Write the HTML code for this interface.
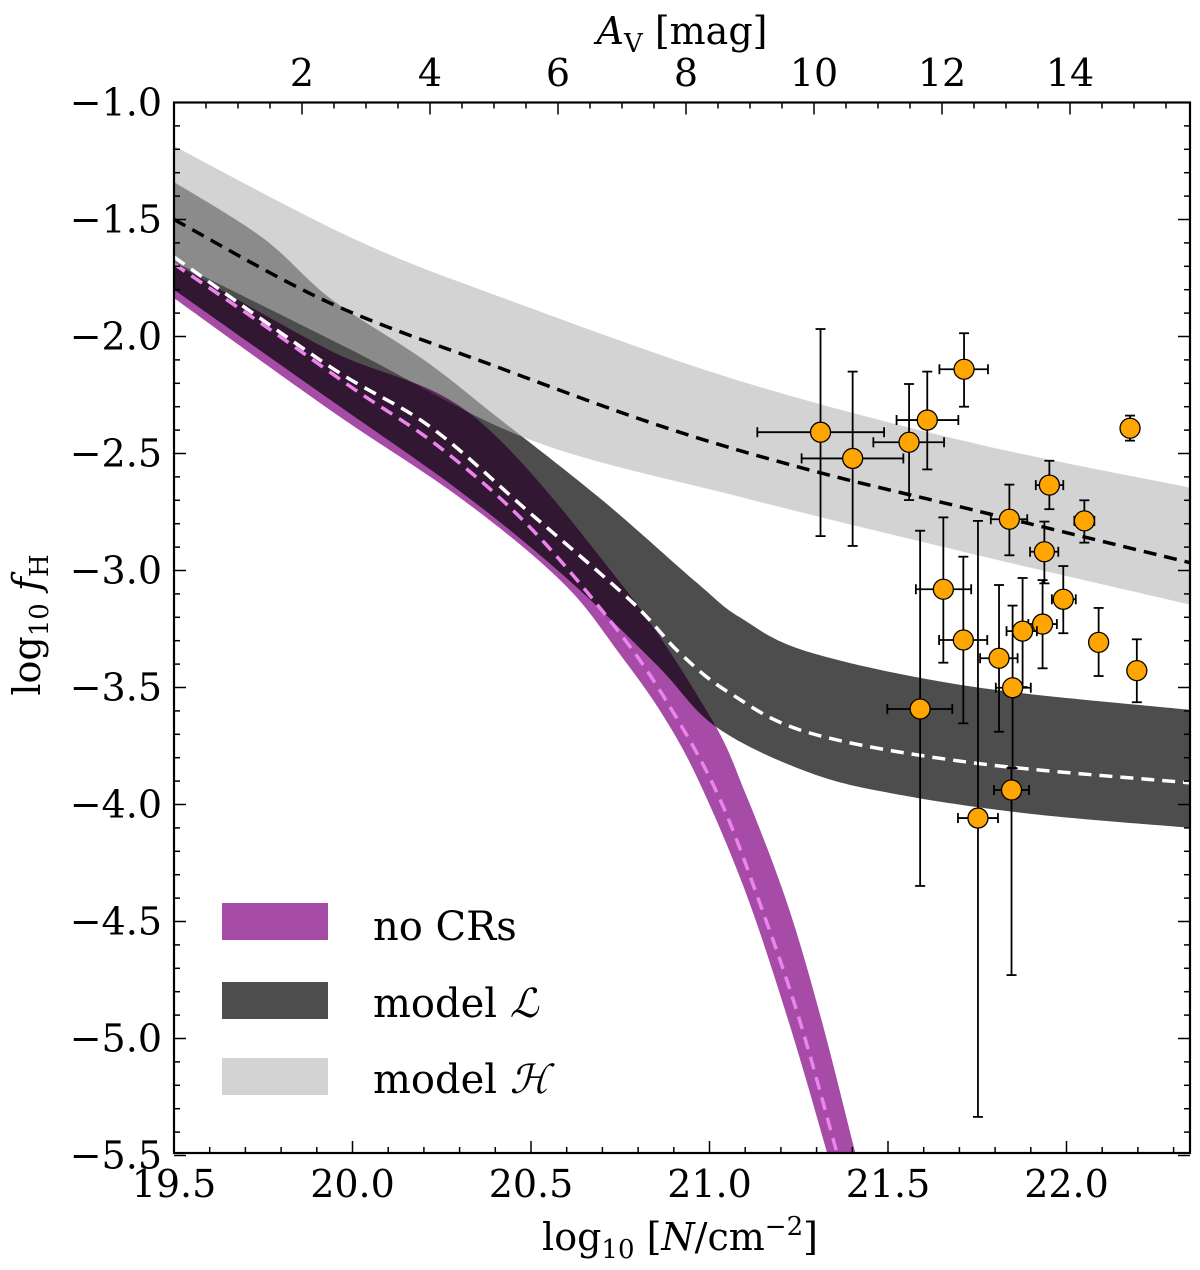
<!DOCTYPE html>
<html><head><meta charset="utf-8"><style>
html,body{margin:0;padding:0;background:#fff;}
svg{display:block;font-family:"DejaVu Serif","Liberation Serif",serif;}
</style></head><body>
<svg id="chart" width="1200" height="1270" viewBox="0 0 1200 1270" xmlns="http://www.w3.org/2000/svg">
<defs><clipPath id="plotclip"><rect x="174" y="102" width="1016" height="1051"/></clipPath></defs>
<g id="bands" clip-path="url(#plotclip)"></g>
<g id="lines" clip-path="url(#plotclip)"></g>
<g id="points"></g>
<g id="axes"></g>
<g id="legend">
  <rect x="222" y="903" width="106" height="37" fill="#a64ca6"/>
  <text x="373" y="940" font-size="40">no CRs</text>
  <rect x="222" y="982" width="106" height="37" fill="#4d4d4d"/>
  <text x="373" y="1017" font-size="40">model <tspan font-style="italic">ℒ</tspan></text>
  <rect x="222" y="1058" width="106" height="37" fill="#d3d3d3"/>
  <text x="373" y="1093" font-size="40">model <tspan font-style="italic">ℋ</tspan></text>
</g>
</svg>
<script>
// ---- data ----
const hMedX=[19.5,19.937,20.405,20.87,21.282,21.738,22.35];
const hMedY=[-1.5,-1.857,-2.13,-2.386,-2.571,-2.741,-2.968];
const hUpX=[19.5,20.0,20.43,21.085,21.738,22.35];
const hUpY=[-1.186,-1.58,-1.84,-2.19,-2.455,-2.647];
const hLoX=[19.5,20.0,20.5,21.085,21.738,22.35];
const hLoY=[-1.68,-2.06,-2.443,-2.685,-2.93,-3.147];
const lMedX=[19.5,19.937,20.217,20.497,20.777,20.917,21.057,21.282,21.738,22.35];
const lMedY=[-1.66,-2.129,-2.385,-2.754,-3.126,-3.353,-3.524,-3.695,-3.822,-3.908];
const lUpX=[19.5,19.75,19.94,20.2,20.405,20.7,20.965,21.085,21.282,21.738,22.35];
const lUpY=[-1.34,-1.58,-1.84,-2.1,-2.344,-2.7,-3.053,-3.2,-3.35,-3.497,-3.596];
const lLoX=[19.5,19.937,20.3,20.59,20.85,21.02,21.282,21.534,21.9,22.35];
const lLoY=[-1.8,-2.27,-2.66,-3.02,-3.4,-3.67,-3.865,-3.959,-4.04,-4.1];
const pMedX=[19.5,19.75,20.0,20.25,20.5,20.75,20.9,21.03,21.15,21.25,21.35,21.42];
const pMedY=[-1.69,-1.95,-2.22,-2.48,-2.82,-3.27,-3.61,-3.98,-4.46,-4.91,-5.45,-5.85];
const pUpX=[19.5,19.937,20.338,20.749,21.0,21.1,21.217,21.31,21.402,21.45];
const pUpY=[-1.686,-2.06,-2.34,-3.05,-3.62,-3.95,-4.42,-4.9,-5.45,-5.75];
const pLoX=[19.5,19.937,20.31,20.59,20.75,20.87,20.97,21.1,21.22,21.324,21.37];
const pLoY=[-1.836,-2.314,-2.699,-3.054,-3.36,-3.62,-3.9,-4.37,-4.92,-5.46,-5.73];
// observations
const obsX=[21.311,21.401,21.559,21.610,21.713,22.178,21.952,21.840,22.050,21.938,21.655,21.991,21.933,21.877,22.090,21.711,21.811,22.197,21.849,21.590,21.846,21.752];
const obsY=[-2.409,-2.521,-2.452,-2.357,-2.140,-2.392,-2.635,-2.781,-2.788,-2.920,-3.080,-3.123,-3.229,-3.259,-3.307,-3.297,-3.375,-3.428,-3.501,-3.592,-3.938,-4.058];
const obsXlo=[21.134,21.258,21.459,21.524,21.644,22.172,21.914,21.788,22.022,21.898,21.578,21.959,21.893,21.832,22.090,21.643,21.758,22.197,21.802,21.498,21.797,21.696];
const obsXhi=[21.489,21.543,21.657,21.697,21.780,22.184,21.991,21.890,22.078,21.977,21.733,22.026,21.973,21.917,22.090,21.778,21.863,22.197,21.900,21.680,21.895,21.808];
const obsYhi=[-1.968,-2.150,-2.203,-2.150,-1.986,-2.338,-2.531,-2.633,-2.700,-2.791,-2.773,-2.981,-3.041,-3.032,-3.160,-2.941,-3.062,-3.294,-3.150,-2.830,-3.844,-2.788];
const obsYlo=[-2.853,-2.895,-2.699,-2.568,-2.300,-2.445,-2.738,-2.935,-2.881,-3.055,-3.394,-3.268,-3.418,-3.498,-3.451,-3.653,-3.689,-3.563,-3.845,-4.348,-4.729,-5.335];
// ticks
const xTicks=[19.5,20.0,20.5,21.0,21.5,22.0];
const xTickLabels=["19.5","20.0","20.5","21.0","21.5","22.0"];
const yTicks=[-1.0,-1.5,-2.0,-2.5,-3.0,-3.5,-4.0,-4.5,-5.0,-5.5];
const yTickLabels=["−1.0","−1.5","−2.0","−2.5","−3.0","−3.5","−4.0","−4.5","−5.0","−5.5"];
const avTicks=[2,4,6,8,10,12,14];
const avTickLabels=["2","4","6","8","10","12","14"];

// ---- scales ----
const L=174,R=1190,T=102.5,B=1153;
const sx=v=>L+(v-19.5)*357;
const sy=v=>T+(-1-v)*234;
const sav=v=>L+v*64;
const NS="http://www.w3.org/2000/svg";
function mk(tag,attrs,parent){const e=document.createElementNS(NS,tag);for(const k in attrs)e.setAttribute(k,attrs[k]);parent.appendChild(e);return e;}
function smooth(xs,ys){
  const P=xs.map((x,i)=>[sx(x),sy(ys[i])]);let d="M"+P[0][0]+","+P[0][1];
  for(let i=0;i<P.length-1;i++){const p0=P[Math.max(0,i-1)],p1=P[i],p2=P[i+1],p3=P[Math.min(P.length-1,i+2)];
    d+=" C"+(p1[0]+(p2[0]-p0[0])/6)+","+(p1[1]+(p2[1]-p0[1])/6)+" "+(p2[0]-(p3[0]-p1[0])/6)+","+(p2[1]-(p3[1]-p1[1])/6)+" "+p2[0]+","+p2[1];}
  return d;}
function bandPath(ux,uy,lx,ly){
  const up=smooth(ux,uy);const lo=smooth(lx.slice().reverse(),ly.slice().reverse());
  return up+" L"+lo.slice(1)+" Z";}
const bands=document.getElementById('bands');
const bl=mk('path',{d:bandPath(lUpX,lUpY,lLoX,lLoY),fill:'#4d4d4d'},bands);


const bh=mk('path',{d:bandPath(hUpX,hUpY,hLoX,hLoY),fill:'#b6b6b6','fill-opacity':'0.6'},bands);


const bp=mk('path',{d:bandPath(pUpX,pUpY,pLoX,pLoY),fill:'#a64ca6',style:'mix-blend-mode:multiply'},bands);


const lines=document.getElementById('lines');
const l1=mk('path',{d:smooth(hMedX,hMedY),fill:'none',stroke:'#000','stroke-width':3.5,'stroke-dasharray':'13,8'},lines);


const l2=mk('path',{d:smooth(lMedX,lMedY),fill:'none',stroke:'#fff','stroke-width':3.5,'stroke-dasharray':'13,8'},lines);


const l3=mk('path',{d:smooth(pMedX,pMedY),fill:'none',stroke:'#ee82ee','stroke-width':3.5,'stroke-dasharray':'13,8'},lines);



const pg=document.getElementById('points');
for(let i=0;i<obsX.length;i++){
  const g=mk('g',{},pg);
  
  
  const cx=sx(obsX[i]),cy=sy(obsY[i]);
  const x1=sx(obsXlo[i]),x2=sx(obsXhi[i]),y1=sy(obsYhi[i]),y2=sy(obsYlo[i]);
  const st={stroke:'#000','stroke-width':1.8};
  mk('line',Object.assign({x1:cx,x2:cx,y1:y1,y2:y2},st),g);
  mk('line',Object.assign({x1:cx-5,x2:cx+5,y1:y1,y2:y1},st),g);
  mk('line',Object.assign({x1:cx-5,x2:cx+5,y1:y2,y2:y2},st),g);
  if(x2-x1>2){
    mk('line',Object.assign({x1:x1,x2:x2,y1:cy,y2:cy},st),g);
    mk('line',Object.assign({x1:x1,x2:x1,y1:cy-5,y2:cy+5},st),g);
    mk('line',Object.assign({x1:x2,x2:x2,y1:cy-5,y2:cy+5},st),g);
  }
  mk('circle',{cx:cx,cy:cy,r:10,fill:'#ffa500',stroke:'#000','stroke-width':1.3},g);
}

const ax=document.getElementById('axes');
const fr=mk('rect',{x:L,y:T,width:R-L,height:B-T,fill:'none',stroke:'#000','stroke-width':2.2},ax);


for(let k=0;k<=28;k++){const v=19.5+k*0.1;const x=sx(v);if(x>R)break;const maj=k%5==0;
  mk('line',{x1:x,x2:x,y1:B,y2:B-(maj?12:6),stroke:'#000','stroke-width':1.5},ax);}
xTicks.forEach((v,i)=>{const t=mk('text',{x:sx(v),y:B+44,'font-size':38,'text-anchor':'middle'},ax);t.textContent=xTickLabels[i];
  
  });
for(let k=0;k<=45;k++){const v=-1-k*0.1;const y=sy(v);const maj=k%5==0;
  mk('line',{x1:L,x2:L+(maj?12:6),y1:y,y2:y,stroke:'#000','stroke-width':1.5},ax);
  mk('line',{x1:R,x2:R-(maj?12:6),y1:y,y2:y,stroke:'#000','stroke-width':1.5},ax);}
yTicks.forEach((v,i)=>{const t=mk('text',{x:162,y:sy(v)+13,'font-size':38,'text-anchor':'end'},ax);t.textContent=yTickLabels[i];
  
  });
for(let k=1;k<=31;k++){const v=k*0.5;const x=sav(v);if(x>R)break;const maj=k%4==0;
  mk('line',{x1:x,x2:x,y1:T,y2:T+(maj?12:6),stroke:'#000','stroke-width':1.5},ax);}
avTicks.forEach((v,i)=>{const t=mk('text',{x:sav(v),y:86,'font-size':38,'text-anchor':'middle'},ax);t.textContent=avTickLabels[i];
  
  });
const xt=mk('text',{x:680,y:1250,'font-size':38,'text-anchor':'middle'},ax);
xt.innerHTML='log<tspan font-size="26" dy="8">10</tspan><tspan dy="-8"> [</tspan><tspan font-style="italic">N</tspan>/cm<tspan font-size="26" dy="-15">−2</tspan><tspan dy="15">]</tspan>';


const tt=mk('text',{x:682,y:44,'font-size':38,'text-anchor':'middle'},ax);
tt.innerHTML='<tspan font-style="italic">A</tspan><tspan font-size="26" dy="8">V</tspan><tspan dy="-8"> [mag]</tspan>';


const yt=mk('text',{x:0,y:0,'font-size':38,'text-anchor':'middle',transform:'translate(40,625) rotate(-90)'},ax);
yt.innerHTML='log<tspan font-size="26" dy="8">10</tspan><tspan dy="-8"> </tspan><tspan font-style="italic">f</tspan><tspan font-size="26" dy="8">H</tspan>';


</script>
</body></html>
